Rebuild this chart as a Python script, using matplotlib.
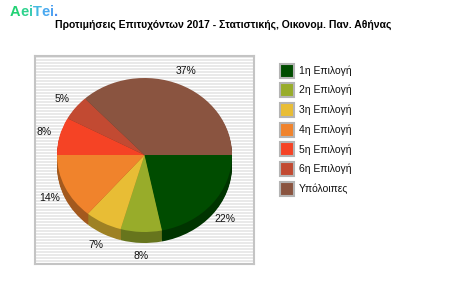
import matplotlib
matplotlib.use("Agg")
import matplotlib.pyplot as plt
import numpy as np

# ---- data ----
categories = ["1η Επιλογή", "2η Επιλογή", "3η Επιλογή", "4η Επιλογή",
              "5η Επιλογή", "6η Επιλογή", "Υπόλοιπες"]
values = [21.8, 7.6, 6.8, 13.8, 7.9, 5.2, 36.9]
colors = ["#004c00", "#98ac2a", "#e8bd35", "#f0832c", "#f54325", "#c24a32", "#8a5440"]
title = "Προτιμήσεις Επιτυχόντων 2017 - Στατιστικής, Οικονομ. Παν. Αθήνας"

W, H = 450, 300
fig = plt.figure(figsize=(4.5, 3), dpi=100)
fig.patch.set_facecolor("white")

def box(x0, y0, x1, y1):
    return [x0 / W, 1 - y1 / H, (x1 - x0) / W, (y1 - y0) / H]

# ---- striped plot background ----
bg = fig.add_axes(box(35, 56, 254, 264))
bg.set_xlim(0, 219)
bg.set_ylim(208, 0)
bg.set_facecolor("white")
for y in np.arange(0, 208, 3):
    bg.axhspan(y, y + 1.5, color="#e9e9e9", lw=0)
for s in bg.spines.values():
    s.set_color("#c4c4c4")
    s.set_linewidth(1.5)
bg.set_xticks([])
bg.set_yticks([])

# ---- pie (elliptical, pseudo 3D) ----
depth_px = 11
ry_px = 77
d = depth_px / ry_px
pax = fig.add_axes(box(57, 78, 232, 78 + 2 * ry_px + depth_px))
pax.set_facecolor("none")
pax.axis("off")

def darker(c, f=0.68):
    r, g, b = matplotlib.colors.to_rgb(c)
    return (r * f, g * f, b * f)

side_cols = [darker(c) for c in colors]
for off in np.linspace(d, 0.0, 12)[:-1]:
    pax.pie(values, colors=side_cols, startangle=0, counterclock=False,
            center=(0, -off), radius=1, frame=True,
            wedgeprops=dict(linewidth=0))
wedges, _ = pax.pie(values, colors=colors, startangle=0, counterclock=False,
                    center=(0, 0), radius=1, frame=True,
                    wedgeprops=dict(linewidth=0))
pax.set_xlim(-1, 1)
pax.set_ylim(-1 - d, 1)
pax.set_aspect("auto")
pax.axis("off")

total = sum(values)
ang = 0.0
for v in values:
    a0 = ang
    ang -= v / total * 360
    mid = np.deg2rad((a0 + ang) / 2)
    r = 1.19
    x, y = r * np.cos(mid), r * np.sin(mid)
    if y < 0:
        y -= d * 0.9 * (-np.sin(mid))
    pax.text(x, y, f"{round(v):d}%", ha="center", va="center",
             fontsize=7.5, family="Liberation Sans", color="#111111")

# ---- legend ----
lax = fig.add_axes([0, 0, 1, 1])
lax.set_xlim(0, W)
lax.set_ylim(H, 0)
lax.axis("off")
lax.set_facecolor("none")
for i, (lab, c) in enumerate(zip(categories, colors)):
    cy = 70.5 + 19.7 * i
    lax.add_patch(plt.Rectangle((280, cy - 7), 14, 14, facecolor=c,
                                edgecolor="#b4b4b4", lw=1.5))
    lax.text(299, cy, lab, ha="left", va="center", fontsize=7.5,
             family="Liberation Sans", color="#111111")

# ---- title ----
lax.text(223, 25, title, ha="center", va="center", fontsize=7.5,
         fontweight="bold", family="Liberation Sans", color="black")

# ---- logo ----
logo = "AeiTei."
logo_cols = ["#22d274", "#2fd38e", "#3ccbb0", "#44b8e2", "#4aa9f0", "#50a2f0", "#4f8ff0"]
renderer = fig.canvas.get_renderer()
x = 10
for ch, c in zip(logo, logo_cols):
    t = lax.text(x, 12, ch, ha="left", va="center", fontsize=10.5,
                 fontweight="bold", family="Liberation Sans", color=c)
    bb = t.get_window_extent(renderer=renderer)
    x += bb.width

fig.savefig("out.png", dpi=100)
